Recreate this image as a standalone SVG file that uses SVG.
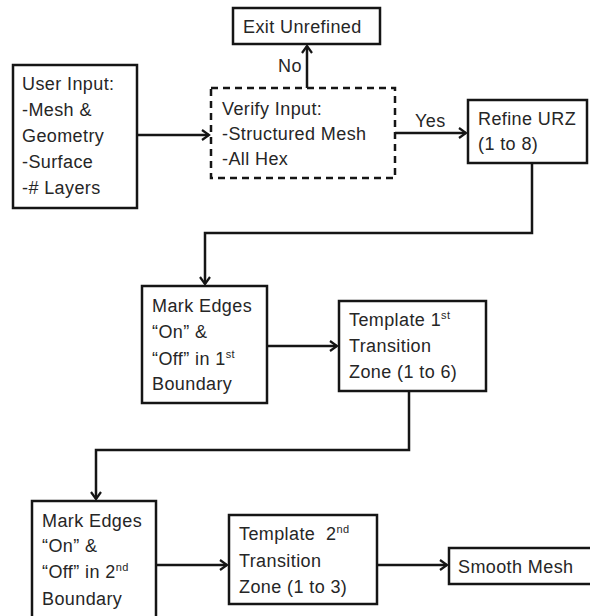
<svg xmlns="http://www.w3.org/2000/svg" width="590" height="616" viewBox="0 0 590 616">
<defs>
<style>
.box{fill:#fff;stroke:#151515;stroke-width:2.5}
.dash{fill:#fff;stroke:#151515;stroke-width:2.5;stroke-dasharray:7 5}
.ln{fill:none;stroke:#151515;stroke-width:2.5}
text{font-family:"Liberation Sans",Arial,sans-serif;font-size:18px;fill:#262626;letter-spacing:0.4px}
.sup{font-size:11px}
</style>
<marker id="ah" markerWidth="12" markerHeight="12" refX="9" refY="6" orient="auto" markerUnits="userSpaceOnUse">
<path d="M2,1 L9,6 L2,11" fill="none" stroke="#151515" stroke-width="2.2"/>
</marker>
</defs>
<rect width="590" height="616" fill="#fff"/>
<g id="connectors">
<path class="ln" d="M137,135 H209" marker-end="url(#ah)"/>
<path class="ln" d="M307,88 V46" marker-end="url(#ah)"/>
<path class="ln" d="M395,133 H466" marker-end="url(#ah)"/>
<path class="ln" d="M532,163 V233 H205 V284" marker-end="url(#ah)"/>
<path class="ln" d="M267,346 H337" marker-end="url(#ah)"/>
<path class="ln" d="M409,391 V450 H96 V499" marker-end="url(#ah)"/>
<path class="ln" d="M156,565 H227" marker-end="url(#ah)"/>
<path class="ln" d="M377,565 H447" marker-end="url(#ah)"/>
<text x="278" y="72">No</text>
<text x="415" y="127">Yes</text>
</g>
<g id="exit">
<rect class="box" x="233" y="8" width="147" height="36"/>
<text x="243" y="33">Exit Unrefined</text>
</g>
<g id="userinput">
<rect class="box" x="13" y="65" width="124" height="143"/>
<text x="22" y="90">User Input:</text>
<text x="22" y="116">-Mesh &amp;</text>
<text x="22" y="142">Geometry</text>
<text x="22" y="168">-Surface</text>
<text x="22" y="194">-# Layers</text>
</g>
<g id="verify">
<rect class="dash" x="211" y="88" width="184" height="90"/>
<text x="222" y="115">Verify Input:</text>
<text x="222" y="140">-Structured Mesh</text>
<text x="222" y="165">-All Hex</text>
</g>
<g id="refine">
<rect class="box" x="468" y="100" width="119" height="63"/>
<text x="478" y="125">Refine URZ</text>
<text x="478" y="150">(1 to 8)</text>
</g>
<g id="mark1">
<rect class="box" x="142" y="286" width="125" height="117"/>
<text x="152" y="312">Mark Edges</text>
<text x="152" y="338">“On” &amp;</text>
<text x="152" y="365">“Off” in 1<tspan class="sup" dy="-7">st</tspan></text>
<text x="152" y="390">Boundary</text>
</g>
<g id="template1">
<rect class="box" x="339" y="301" width="147" height="90"/>
<text x="349" y="326">Template 1<tspan class="sup" dy="-7">st</tspan></text>
<text x="349" y="352">Transition</text>
<text x="349" y="378">Zone (1 to 6)</text>
</g>
<g id="mark2">
<rect class="box" x="32" y="501" width="124" height="120"/>
<text x="42" y="527">Mark Edges</text>
<text x="42" y="552">“On” &amp;</text>
<text x="42" y="578">“Off” in 2<tspan class="sup" dy="-7">nd</tspan></text>
<text x="42" y="605">Boundary</text>
</g>
<g id="template2">
<rect class="box" x="229" y="515" width="148" height="89"/>
<text x="239" y="540" xml:space="preserve">Template  2<tspan class="sup" dy="-7">nd</tspan></text>
<text x="239" y="567">Transition</text>
<text x="239" y="593">Zone (1 to 3)</text>
</g>
<g id="smooth">
<rect class="box" x="449" y="548" width="145" height="36"/>
<text x="458" y="573">Smooth Mesh</text>
</g>
</svg>
